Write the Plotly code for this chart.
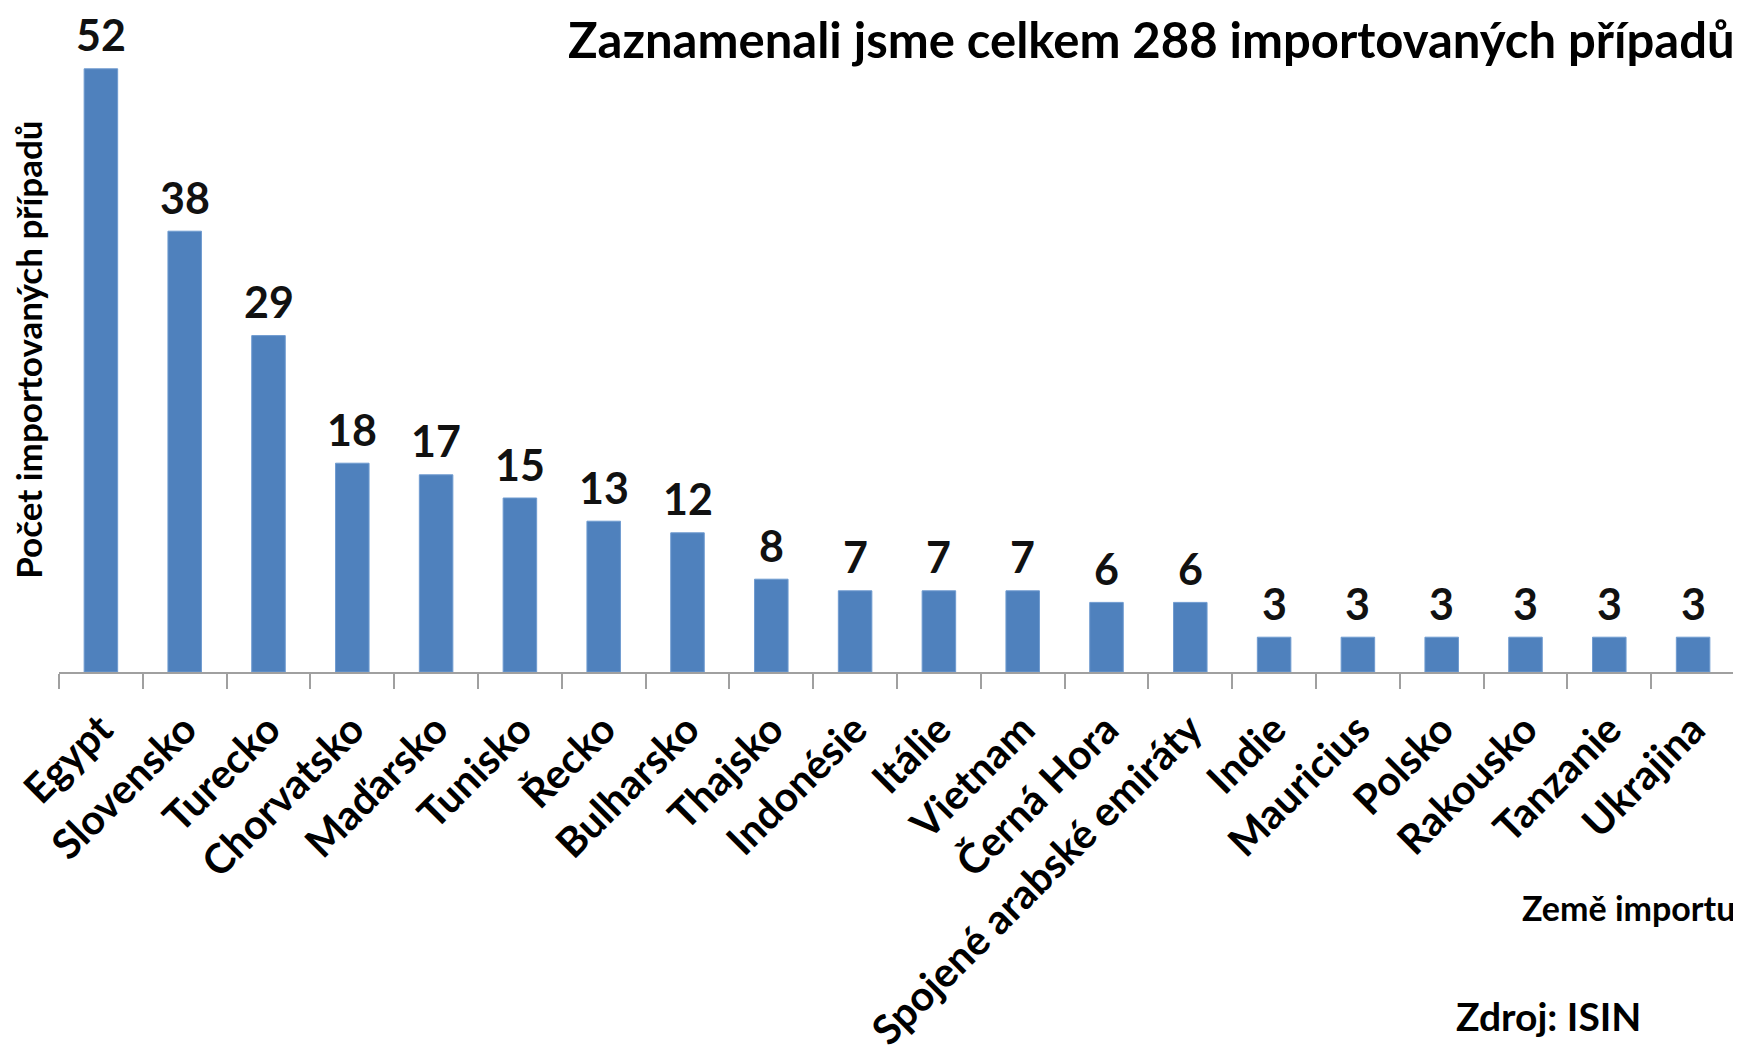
import plotly.graph_objects as go

countries = ["Egypt", "Slovensko", "Turecko", "Chorvatsko", "Maďarsko", "Tunisko",
             "Řecko", "Bulharsko", "Thajsko", "Indonésie", "Itálie", "Vietnam",
             "Černá Hora", "Spojené arabské emiráty", "Indie", "Mauricius", "Polsko",
             "Rakousko", "Tanzanie", "Ukrajina"]
cases = [52, 38, 29, 18, 17, 15, 13, 12, 8, 7, 7, 7, 6, 6, 3, 3, 3, 3, 3, 3]

title_text = "Zaznamenali jsme celkem 288 importovaných případů"
y_title = "Počet importovaných případů"
x_title = "Země importu"
source_text = "Zdroj: ISIN"

FONT = "Lato"
BLUE = "#4F81BD"
GREY = "#A0A0A0"

fig = go.Figure(go.Bar(
    x=countries, y=cases,
    marker=dict(color=BLUE, line=dict(color="#6F9BD0", width=1)),
    width=0.4,
    hoverinfo="x+y",
))

annotations = []
for c, v in zip(countries, cases):
    annotations.append(dict(
        x=c, y=v, xref="x", yref="y", text=f"<b>{v}</b>", showarrow=False,
        yanchor="middle", yshift=34,
        font=dict(family=FONT, size=43, color="#111111"),
    ))

annotations += [
    dict(text=f"<b>{title_text}</b>", xref="paper", yref="paper", x=1.0, y=1.0,
         xanchor="right", yanchor="middle", yshift=-5, xshift=2, showarrow=False,
         font=dict(family=FONT, size=49, color="#000000")),
    dict(text=f"<b>{y_title}</b>", xref="paper", yref="paper", x=0, y=0.505,
         xshift=-31, textangle=-90, xanchor="center", yanchor="middle",
         showarrow=False, font=dict(family=FONT, size=35, color="#000000")),
    dict(text=f"<b>{x_title}</b>", xref="paper", yref="paper", x=1.0, y=0,
         xanchor="right", yanchor="middle", yshift=-235, xshift=2, showarrow=False,
         font=dict(family=FONT, size=34, color="#000000")),
    dict(text=f"<b>{source_text}</b>", xref="paper", yref="paper", x=0.889, y=0,
         xanchor="center", yanchor="middle", yshift=-344, showarrow=False,
         font=dict(family=FONT, size=39, color="#000000")),
]

fig.update_layout(
    width=1733, height=1054,
    margin=dict(l=51, r=6, t=26, b=390, autoexpand=False),
    paper_bgcolor="white", plot_bgcolor="white",
    showlegend=False,
    bargap=0.6,
    annotations=annotations,
    xaxis=dict(
        type="category", range=[-0.5, 19.5],
        showline=True, linecolor=GREY, linewidth=2,
        ticks="outside", tickson="boundaries", ticklen=15, tickcolor=GREY, tickwidth=2,
        tickangle=-45, ticklabelstandoff=15,
        tickfont=dict(family=FONT, size=41, color="#000000"),
        tickprefix="<b>", ticksuffix="</b>",
        showgrid=False, zeroline=False, automargin=False,
    ),
    yaxis=dict(
        range=[0, 55], visible=False, showgrid=False, zeroline=False,
    ),
)

fig.write_html("out.html")
